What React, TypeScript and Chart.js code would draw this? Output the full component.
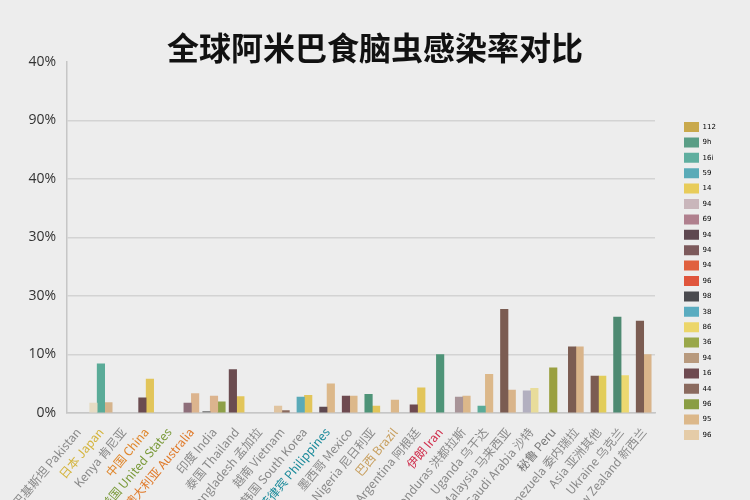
import React, { useEffect, useRef } from 'react';
import { Chart, registerables } from 'chart.js';

Chart.register(...registerables);

const TITLE = '全球阿米巴食脑虫感染率对比';

const categories = [
  '巴基斯坦 Pakistan', '日本 Japan', 'Kenya 肯尼亚', '中国 China', '美国 United States',
  '澳大利亚 Australia', '印度 India', '泰国 Thailand', 'Bangladesh 孟加拉', '越南 Vietnam',
  '韩国 South Korea', '菲律宾 Philippines', '墨西哥 Mexico', 'Nigeria 尼日利亚', '巴西 Brazil',
  'Argentina 阿根廷', '伊朗 Iran', 'Honduras 洪都拉斯', 'Uganda 乌干达', 'Malaysia 马来西亚',
  'Saudi Arabia 沙特', '秘鲁 Peru', 'Venezuela 委内瑞拉', 'Asia 亚洲其他', 'Ukraine 乌克兰',
  'New Zealand 新西兰',
];

const labelColors = [
  '#8a8a8a', '#d4b43c', '#8a8a8a', '#e0862a', '#7a9a3a',
  '#e07a2a', '#8a8a8a', '#8a8a8a', '#8a8a8a', '#8a8a8a',
  '#8a8a8a', '#1a8a9a', '#8a8a8a', '#8a8a8a', '#c8a060',
  '#8a8a8a', '#d0304e', '#8a8a8a', '#8a8a8a', '#8a8a8a',
  '#8a8a8a', '#777777', '#8a8a8a', '#8a8a8a', '#8a8a8a',
  '#8a8a8a',
];

const yTickLabels = ['0%', '10%', '30%', '30%', '40%', '90%', '40%'];

const seriesA = [null, 1.7, null, 2.6, null, 1.7, 0.3, 7.4, null, 1.2, 2.7, 1.0, 2.9, 3.2, 2.2, 1.4, 10.0, 2.7, 1.2, 17.7, 3.8, 7.7, 11.3, 6.3, 16.4, 15.7];
const seriesB = [null, 8.4, null, 5.8, null, 3.3, 2.9, 2.8, null, 0.4, 3.0, 5.0, 2.9, 1.2, null, 4.3, null, 2.9, 6.6, 3.9, 4.2, null, 11.3, 6.3, 6.4, 10.0];
const seriesC = [null, 1.8, null, null, null, null, 1.9, null, null, null, null, null, null, null, null, null, null, null, null, null, null, null, null, null, null, null];

const colorsA = ['#ccc', '#e6dcc4', '#ccc', '#6b4c50', '#ccc', '#8e6e7a', '#8a8a8a', '#6b4c50', '#ccc', '#e0c4a0', '#5aaab8', '#5e4850', '#6e4a50', '#4e9478', '#dcb88a', '#6e4a50', '#4e9478', '#a89498', '#5aab98', '#7b5c52', '#b3b0c0', '#9aa040', '#7b5c52', '#7b5c52', '#4e8a72', '#7b5c52'];
const colorsB = ['#ccc', '#5aab98', '#ccc', '#e2c55a', '#ccc', '#dcb48e', '#dcb48e', '#e2c55a', '#ccc', '#8a6a5e', '#e2c55a', '#dcb88a', '#dcb88a', '#e2c55a', '#ccc', '#e2c55a', '#ccc', '#dcb88a', '#dcb88a', '#d9b48a', '#e8dc9a', '#ccc', '#d9b48a', '#e2cd5a', '#ecd870', '#d9b48a'];
const colorsC = ['#ccc', '#d6b48c', '#ccc', '#ccc', '#ccc', '#ccc', '#8ea048', '#ccc', '#ccc', '#ccc', '#ccc', '#ccc', '#ccc', '#ccc', '#ccc', '#ccc', '#ccc', '#ccc', '#ccc', '#ccc', '#ccc', '#ccc', '#ccc', '#ccc', '#ccc', '#ccc'];

const legendNames = ['112', '9h', '16i', '59', '14', '94', '69', '94', '94', '94', '96', '98', '38', '86', '36', '94', '16', '44', '96', '95', '96'];
const legendColors = ['#c9a94c', '#5a9e86', '#5fae9f', '#5aabb8', '#e8cc5a', '#c9b6bb', '#b0808e', '#5e4850', '#7d5a5c', '#e0603e', '#e0553c', '#4a4a4e', '#5aacc0', '#ecd66a', '#9aa84a', '#b89a7e', '#6e4a50', '#8a6a5e', '#8a9e44', '#dcb88a', '#e5cca8'];

const bgPlugin = {
  id: 'bgFill',
  beforeDraw(chart: any) {
    const { ctx, width, height } = chart;
    ctx.save();
    ctx.fillStyle = '#ededed';
    ctx.fillRect(0, 0, width, height);
    ctx.restore();
  },
};

const legendPlace = {
  id: 'legendPlace',
  beforeLayout(chart: any) {
    const l = chart.legend;
    if (l && !l.__patched) {
      const f = l.fit.bind(l);
      l.fit = function () {
        f();
        this.width = 95;
      };
      l.__patched = true;
    }
  },
  afterLayout(chart: any) {
    const l = chart.legend;
    if (!l) return;
    const pad = l.options.labels.padding;
    const dx = 684 - (l.left + pad);
    const dy = 122 - (l.top + pad);
    l.left += dx;
    l.right += dx;
    l.top += dy;
    l.bottom += dy;
  },
};

export default function App() {
  const ref = useRef<HTMLCanvasElement | null>(null);

  useEffect(() => {
    document.body.style.margin = '0';
    const canvas = ref.current;
    if (!canvas) return;
    const chart = new Chart(canvas, {
      type: 'bar',
      data: {
        labels: categories,
        datasets: [
          { label: 'A', data: seriesA, backgroundColor: colorsA, skipNull: true } as any,
          { label: 'B', data: seriesB, backgroundColor: colorsB, skipNull: true } as any,
          { label: 'C', data: seriesC, backgroundColor: colorsC, skipNull: true } as any,
        ],
      },
      options: {
        responsive: false,
        animation: false,
        devicePixelRatio: 1,
        layout: { padding: { left: 0, right: 0, top: 0, bottom: 0 } },
        datasets: { bar: { barThickness: 7.5, borderWidth: 0 } as any },
        plugins: {
          title: {
            display: true,
            text: TITLE,
            color: '#111111',
            font: { family: '"Noto Sans CJK SC", sans-serif', size: 32, weight: 'bold', lineHeight: 0.9 },
            padding: { top: 33, bottom: 0 },
          },
          legend: {
            display: true,
            position: 'right',
            align: 'start',
            onClick: () => {},
            labels: {
              boxWidth: 15,
              boxHeight: 10,
              padding: 5.4,
              color: '#555555',
              font: { family: '"DejaVu Sans", sans-serif', size: 7 },
              generateLabels: () =>
                legendNames.map((t, i) => ({
                  text: t,
                  fillStyle: legendColors[i],
                  strokeStyle: legendColors[i],
                  lineWidth: 0,
                  hidden: false,
                  datasetIndex: 0,
                })),
            },
          },
          tooltip: { enabled: false },
        },
        scales: {
          x: {
            grid: { display: false },
            border: { display: true, color: '#c6c6c6', width: 1.5 },
            ticks: {
              autoSkip: false,
              minRotation: 50,
              maxRotation: 50,
              padding: 4,
              color: (ctx: any) => labelColors[ctx.index] || '#8a8a8a',
              font: { family: '"Noto Sans CJK SC", "Liberation Sans", sans-serif', size: 12 },
            },
            afterFit: (scale: any) => {
              scale.height = 87;
              scale.paddingLeft = 0;
              scale.paddingRight = 0;
            },
          },
          y: {
            min: 0,
            max: 60,
            grid: {
              drawTicks: false,
              lineWidth: 1.5,
              color: (ctx: any) => (ctx.tick && ctx.tick.value === 60 ? 'rgba(0,0,0,0)' : '#d3d3d3'),
            },
            border: { display: true, color: '#c6c6c6', width: 1.5 },
            ticks: {
              stepSize: 10,
              padding: 11,
              color: '#333333',
              font: { family: '"Open Sans", sans-serif', size: 14 },
              callback: (_v: any, i: number) => yTickLabels[i],
            },
            afterFit: (scale: any) => {
              scale.width = 67;
            },
          },
        },
      },
      plugins: [bgPlugin, legendPlace],
    });
    return () => chart.destroy();
  }, []);

  return (
    <div style={{ width: 750, height: 500 }}>
      <canvas ref={ref} width={750} height={500} style={{ display: 'block' }} />
    </div>
  );
}
